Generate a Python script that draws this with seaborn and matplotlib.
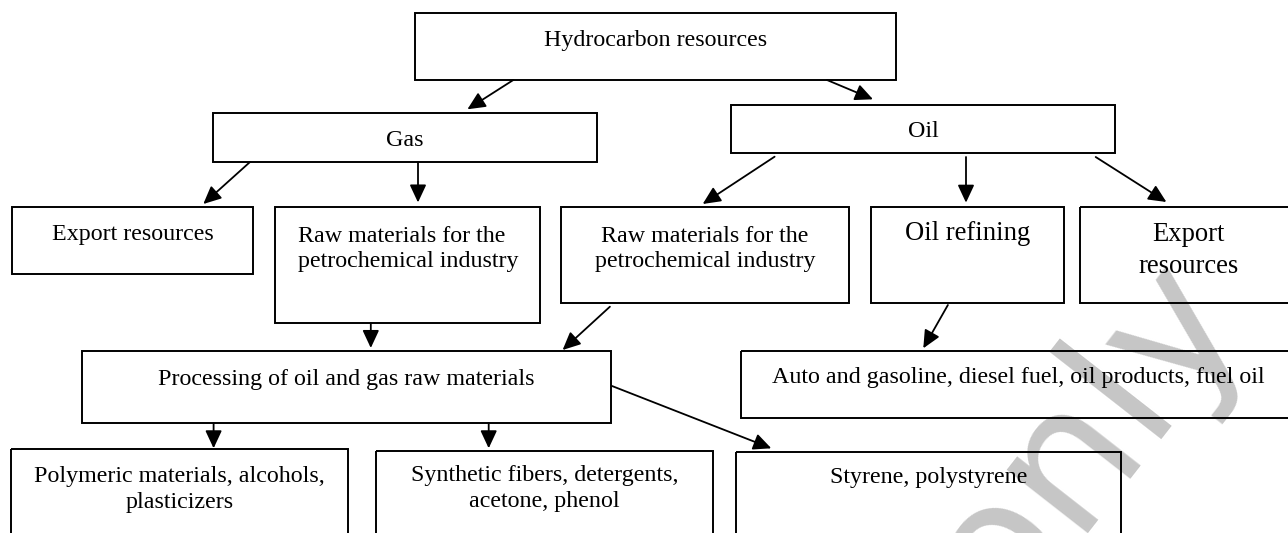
import matplotlib
matplotlib.use("Agg")
import matplotlib.pyplot as plt
from matplotlib.patches import Rectangle, FancyArrowPatch
import seaborn as sns

# ---- data: node labels and links of the flowchart ----
node_labels = [
    "Hydrocarbon resources",
    "Gas",
    "Oil",
    "Export resources",
    "Raw materials for the\npetrochemical industry",
    "Raw materials for the\npetrochemical industry",
    "Oil refining",
    "Export\nresources",
    "Processing of oil and gas raw materials",
    "Auto and gasoline, diesel fuel, oil products, fuel oil",
    "Polymeric materials, alcohols,\nplasticizers",
    "Synthetic fibers, detergents,\nacetone, phenol",
    "Styrene, polystyrene",
]
edge_source = [0, 0, 1, 1, 2, 2, 2, 4, 5, 6, 8, 8, 8]
edge_target = [1, 2, 3, 4, 5, 6, 7, 8, 8, 9, 10, 11, 12]
watermark_text = "only"

# ---- layout (pixel space, y downward) ----
# box: x0, y0, x1, y1 ; text: x, first baseline, line step, fontsize, ha
box_layout = [
    (415.2, 12.7, 896.0, 80.0),
    (213.1, 113.3, 597.5, 161.7),
    (731.0, 104.7, 1115.5, 152.7),
    (12.3, 207.3, 253.0, 274.0),
    (275.5, 207.3, 539.6, 323.3),
    (560.6, 207.3, 849.3, 303.3),
    (870.7, 207.0, 1063.7, 303.3),
    (1080.5, 207.0, 1300.0, 303.3),
    (82.1, 350.7, 610.7, 422.7),
    (741.3, 351.0, 1300.0, 418.0),
    (11.5, 449.3, 348.3, 560.0),
    (376.2, 451.0, 712.6, 560.0),
    (736.4, 451.7, 1121.2, 560.0),
]
text_layout = [
    (655.5, 45.7, 0, 17.3, "center"),
    (404.5, 145.7, 0, 17.3, "center"),
    (923.0, 136.7, 0, 17.3, "center"),
    (133.0, 240.0, 0, 17.3, "center"),
    (298.5, 241.7, 25.0, 17.3, "left"),
    (705.0, 241.7, 25.0, 17.3, "center"),
    (967.6, 240.0, 0, 19.2, "center"),
    (1188.5, 241.0, 32.3, 19.2, "center"),
    (346.0, 385.0, 0, 17.3, "center"),
    (1018.0, 383.3, 0, 17.3, "center"),
    (179.8, 481.7, 26.6, 17.3, "center"),
    (544.4, 480.5, 26.6, 17.3, "center"),
    (928.8, 483.3, 0, 17.3, "center"),
]
edge_layout = [
    ((513.3, 80.0), (467.4, 109.3)),
    ((827.0, 80.0), (873.0, 99.3)),
    ((250.0, 162.0), (203.3, 204.0)),
    ((418.0, 162.0), (418.0, 202.5)),
    ((774.6, 156.7), (702.7, 204.0)),
    ((966.0, 157.0), (966.0, 202.7)),
    ((1095.7, 157.0), (1166.4, 202.0)),
    ((370.8, 323.3), (370.8, 348.0)),
    ((609.9, 306.7), (562.6, 350.0)),
    ((947.9, 305.0), (923.3, 348.3)),
    ((213.6, 423.0), (213.6, 448.3)),
    ((488.7, 423.0), (488.7, 448.3)),
    ((612.0, 386.0), (771.3, 448.3)),
]

sns.set_theme(style="white")
plt.rcParams["font.family"] = ["Liberation Serif", "DejaVu Serif"]

W, H = 1288, 533
fig = plt.figure(figsize=(W / 100, H / 100), dpi=100)
ax = fig.add_axes([0, 0, 1, 1])
ax.set_xlim(0, W)
ax.set_ylim(H, 0)
ax.axis("off")
sns.despine(ax=ax, left=True, bottom=True)

# watermark (behind everything)
ax.text(1085, 440, watermark_text, fontsize=135, color="#c6c6c6",
        family="DejaVu Sans", rotation=52, ha="center", va="center",
        rotation_mode="anchor", zorder=0)

for label, (x0, y0, x1, y1), (tx, ty, step, fs, ha) in zip(node_labels, box_layout, text_layout):
    ax.add_patch(Rectangle((x0, y0), x1 - x0, y1 - y0, fill=False,
                           edgecolor="black", linewidth=1.4, zorder=2))
    for i, line in enumerate(label.split("\n")):
        ax.text(tx, ty + i * step, line, fontsize=fs, ha=ha, va="baseline",
                color="black", zorder=3)

for s, t, (p0, p1) in zip(edge_source, edge_target, edge_layout):
    arr = FancyArrowPatch(p0, p1, arrowstyle="-|>,head_length=0.9,head_width=0.42",
                          mutation_scale=12, color="black", linewidth=1.3,
                          shrinkA=0, shrinkB=0, zorder=3)
    ax.add_patch(arr)

fig.savefig("out.png", dpi=100)
